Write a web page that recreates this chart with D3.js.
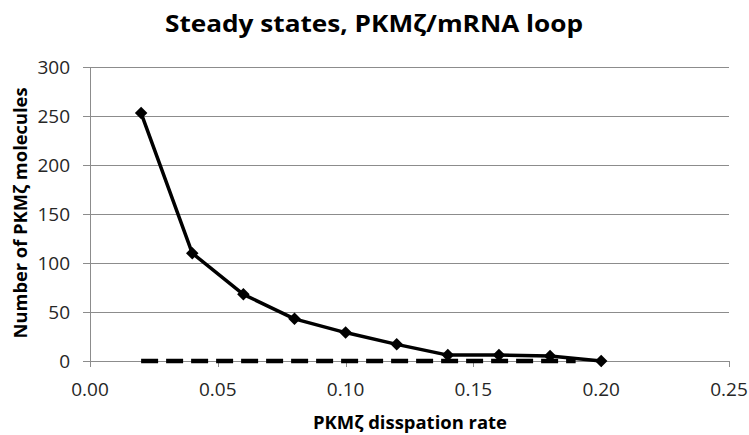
<!DOCTYPE html>
<html><head><meta charset="utf-8">
<script src="https://cdn.jsdelivr.net/npm/d3@7"></script>
<style>body{margin:0;background:#fff}svg{display:block}</style>
</head><body>
<script>
const rates = [0.02,0.04,0.06,0.08,0.10,0.12,0.14,0.16,0.18,0.20];
const molecules = [253,110,68,43,29,17,6,6,5,0];
const dashRates = [0.02,0.04,0.06,0.08,0.10,0.12,0.14,0.16,0.18,0.19];
const dashValues = [0,0,0,0,0,0,0,0,0,0];
const xTicks = [0,0.05,0.10,0.15,0.20,0.25];
const yTicks = [0,50,100,150,200,250,300];
const title = "Steady states, PKMζ/mRNA loop";
const xTitle = "PKMζ disspation rate";
const yTitle = "Number of PKMζ molecules";

const W=749,H=435;
const svg=d3.select("body").append("svg").attr("width",W).attr("height",H);
const x=d3.scaleLinear().domain([0,0.25]).range([90,729]);
const y=d3.scaleLinear().domain([0,300]).range([361,67]);
const font="'Open Sans', sans-serif";

// gridlines
svg.append("g").selectAll("line").data(yTicks).join("line")
  .attr("x1",83).attr("x2",729).attr("y1",d=>y(d)+0.5).attr("y2",d=>y(d)+0.5)
  .attr("stroke","#8c8c8c").attr("stroke-width",1);
// y axis line
svg.append("line").attr("x1",90.5).attr("x2",90.5).attr("y1",y(300)).attr("y2",y(0))
  .attr("stroke","#8c8c8c");
// x ticks
svg.append("g").selectAll("line").data(xTicks).join("line")
  .attr("x1",d=>Math.round(x(d))+0.5).attr("x2",d=>Math.round(x(d))+0.5)
  .attr("y1",y(0)).attr("y2",y(0)+6).attr("stroke","#8c8c8c");

// tick labels
svg.append("g").selectAll("text").data(yTicks).join("text")
  .attr("x",70).attr("y",d=>y(d)).attr("dy","0.36em").attr("text-anchor","end")
  .attr("font-family",font).attr("font-size",19).attr("fill","#262626").text(d=>d);
svg.append("g").selectAll("text").data(xTicks).join("text")
  .attr("x",d=>x(d)).attr("y",396).attr("text-anchor","middle")
  .attr("font-family",font).attr("font-size",19).attr("fill","#262626").text(d=>d.toFixed(2));

// dashed series
svg.append("path").datum(dashRates.map((r,i)=>[r,dashValues[i]]))
  .attr("d",d3.line().x(d=>x(d[0])).y(d=>y(d[1])))
  .attr("fill","none").attr("stroke","#000").attr("stroke-width",4.5)
  .attr("stroke-dasharray","17,8").attr("stroke-linecap","butt");

// solid series
const pts=rates.map((r,i)=>[r,molecules[i]]);
svg.append("path").datum(pts)
  .attr("d",d3.line().x(d=>x(d[0])).y(d=>y(d[1])))
  .attr("fill","none").attr("stroke","#000").attr("stroke-width",3.5).attr("stroke-linejoin","round");
svg.append("g").selectAll("path").data(pts).join("path")
  .attr("d",d3.symbol(d3.symbolDiamond2,100)())
  .attr("transform",d=>`translate(${x(d[0])},${y(d[1])})`).attr("fill","#000");

// titles
svg.append("text").attr("x",374).attr("y",32).attr("text-anchor","middle")
  .attr("font-family",font).attr("font-weight","bold").attr("font-size",24)
  .attr("textLength",418).attr("lengthAdjust","spacingAndGlyphs").attr("fill","#000").text(title);
svg.append("text").attr("x",410).attr("y",429).attr("text-anchor","middle")
  .attr("font-family",font).attr("font-weight","bold").attr("font-size",17.5)
  .attr("textLength",194).attr("lengthAdjust","spacingAndGlyphs").attr("fill","#000").text(xTitle);
svg.append("text").attr("transform","translate(27,213) rotate(-90)").attr("text-anchor","middle")
  .attr("font-family",font).attr("font-weight","bold").attr("font-size",17.5)
  .attr("textLength",251).attr("lengthAdjust","spacingAndGlyphs").attr("fill","#000").text(yTitle);
</script>
</body></html>
